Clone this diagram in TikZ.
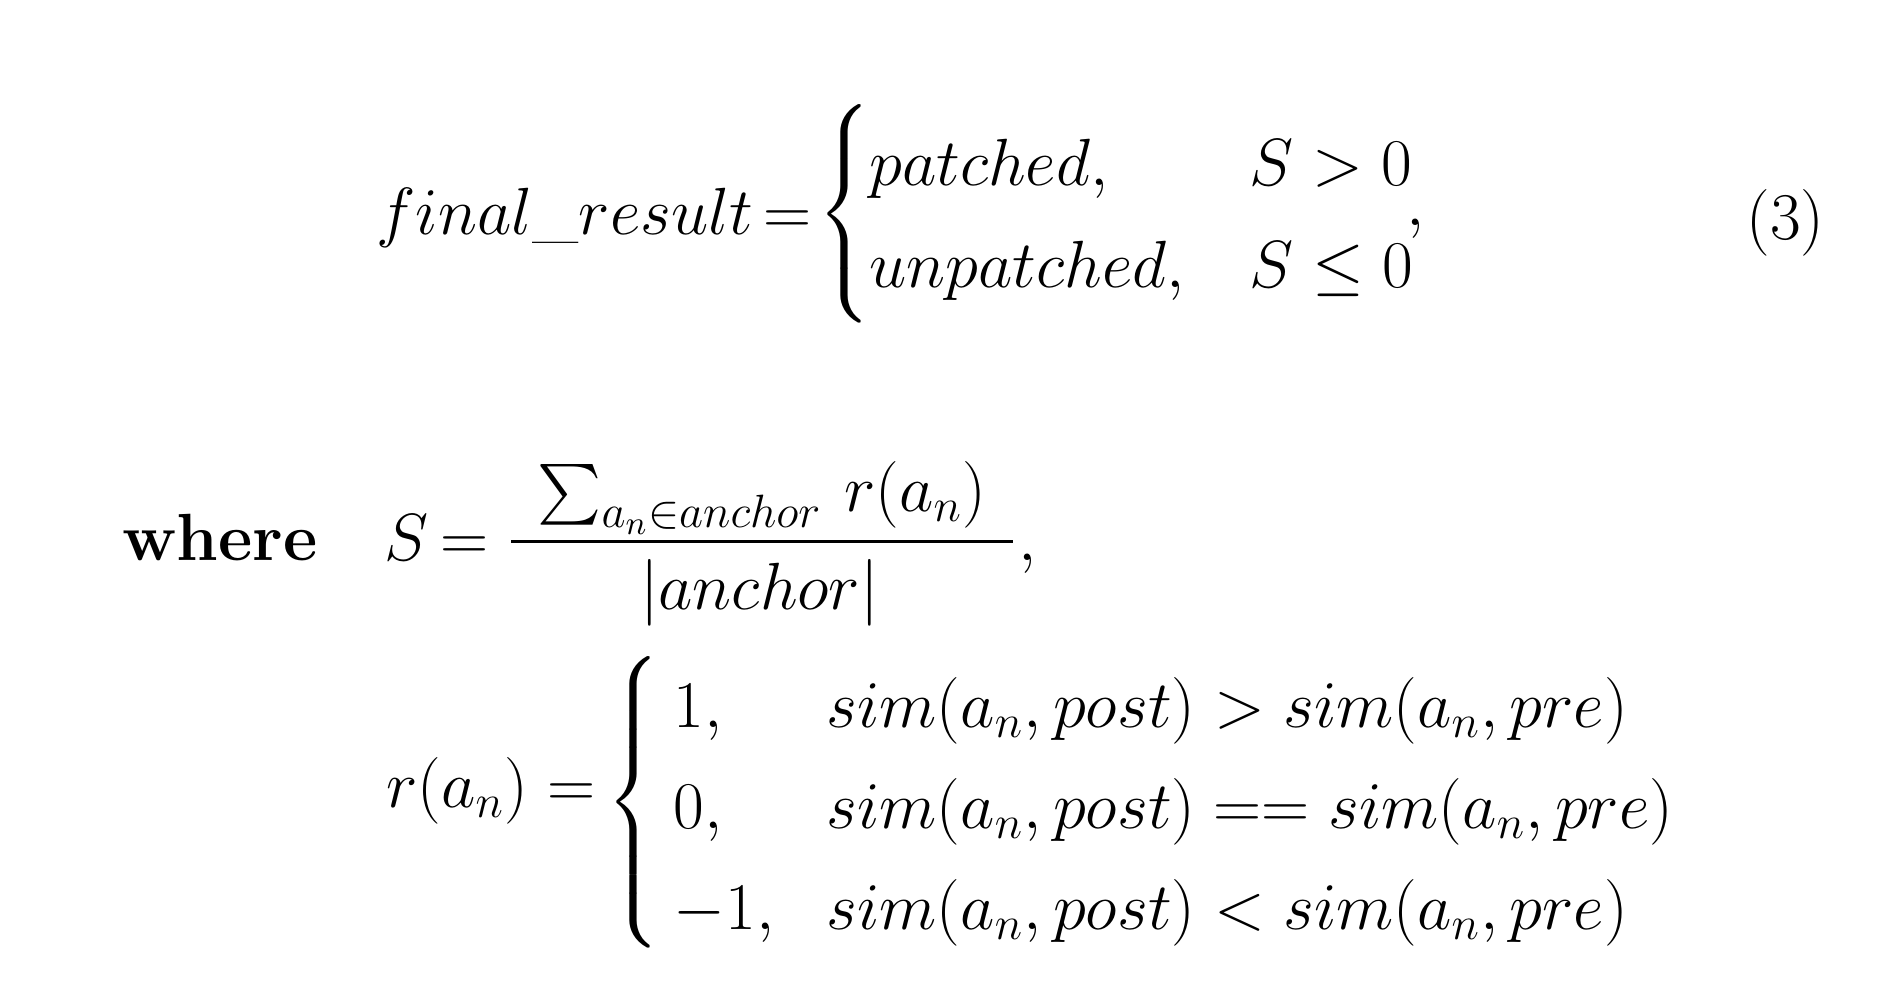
\RequirePackage{fix-cm}
\documentclass[tikz,border=0pt]{standalone}
\usepackage{amsmath}
\begin{document}
\begin{tikzpicture}[x=0.01223cm,y=-0.01223cm,
  every node/.style={inner sep=0pt,outer sep=0pt,font=\fontsize{19}{23}\selectfont},
  txt/.style={anchor=base west},
  ctr/.style={anchor=base},
  fracbar/.style={line width=0.9pt}]
\useasboundingbox[fill=white] (0,0) rectangle (1556,818);
% equation (3)
\node[txt] (fr) at (308,192) {$final\_result$};
\node[txt] (eqa) at (624,192) {$=$};
\node (bra) at (692,175) {$\left\{\vcenter{\hbox{\rule{0pt}{2.2cm}}}\right.$};
\node[txt] (c1) at (711,152) {$patched,$};
\node[txt] (k1) at (1022,152) {$S>0$};
\node[txt] (c2) at (711,235) {$unpatched,$};
\node[txt] (k2) at (1022,235) {$S\le 0$};
\node[txt] (cm1) at (1150,184) {$,$};
\node[txt] (num) at (1428,196) {(3)};
% where
\node[txt] (wh) at (100,458) {\textbf{where}};
\node[txt] (S) at (314,458) {$S$};
\node[txt] (eqb) at (360,458) {$=$};
\node[ctr] (numer) at (623,418) {$\sum_{a_n\in anchor}\, r(a_n)$};
\coordinate (barL) at (418,443);
\coordinate (barR) at (828,443);
\draw[fracbar] (barL) -- (barR);
\node[ctr] (den) at (621,498) {$|anchor|$};
\node[txt] (cm2) at (833,458) {$,$};
% r(a_n)
\node[txt] (r) at (316,660) {$r(a_n)$};
\node[txt] (eqc) at (448,660) {$=$};
\node (brb) at (520,656) {$\left\{\vcenter{\hbox{\rule{0pt}{3.05cm}}}\right.$};
\node[txt] (v1) at (551,595) {$1,$};
\node[txt] (v2) at (551,677) {$0,$};
\node[txt] (v3) at (551,760) {$-1,$};
\node[txt] (d1) at (676,595) {$sim(a_n,post)>sim(a_n,pre)$};
\node[txt] (d2) at (676,677) {$sim(a_n,post)==sim(a_n,pre)$};
\node[txt] (d3) at (676,760) {$sim(a_n,post)<sim(a_n,pre)$};
\end{tikzpicture}
\end{document}
